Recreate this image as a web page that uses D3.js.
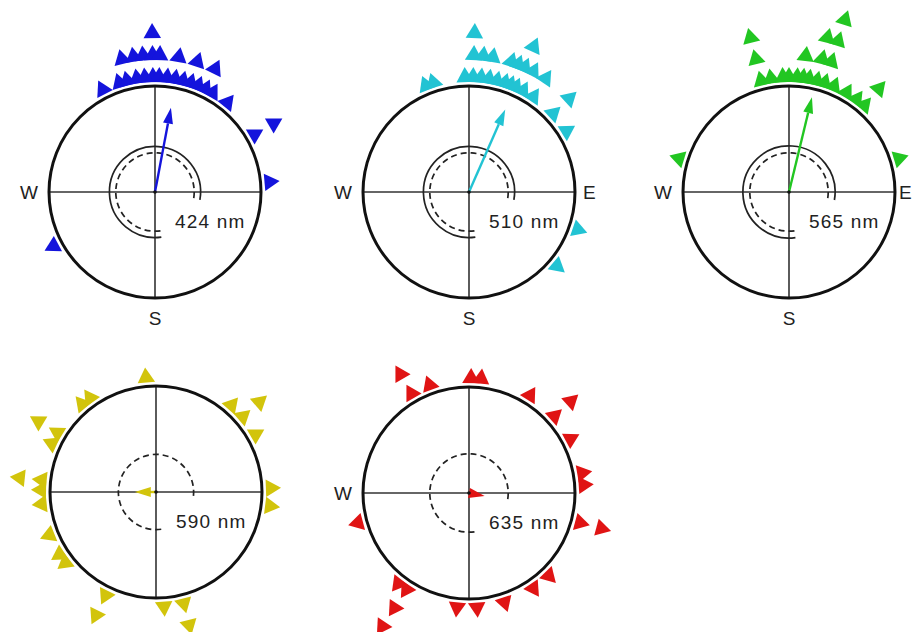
<!DOCTYPE html>
<html>
<head>
<meta charset="utf-8">
<script src="https://cdn.jsdelivr.net/npm/d3@7"></script>
<style>
body { margin: 0; background: #fff; }
svg { display: block; }
text { font-family: Arial, "Liberation Sans", sans-serif; fill: #222; }
</style>
</head>
<body>
<div id="chart"></div>
<script>

// headings (degrees, clockwise from north); repeated values stack outward
var wavelengths = ["424 nm", "510 nm", "565 nm", "590 nm", "635 nm"];
var headings424 = [242, 333, 342, 346, 346, 351, 351, 355, 355, 359, 359, 359, 2, 2, 6, 10, 10, 14, 18, 18, 22, 26, 26, 30, 39, 60, 60, 85];
var headings510 = [2, 2, 2, 6, 6, 10, 10, 14, 18, 18, 21, 21, 24, 24, 24, 28, 28, 34, 34, 47, 47, 58, 109, 130, 338, 342, 358];
var headings565 = [0, 4, 7, 7, 10, 14, 14, 14, 18, 18, 18, 18, 23, 30, 36, 41, 41, 73, 287, 346, 346, 346, 351, 357];
var headings590 = [41, 49, 49, 60, 88, 97, 166, 166, 176, 206, 206, 232, 237, 248, 264, 271, 276, 276, 295, 301, 301, 320, 325, 355];
var headings635 = [1, 6, 32, 48, 48, 62, 80, 86, 105, 105, 136, 146, 162, 176, 186, 213, 213, 213, 218, 255, 330, 330, 340];

// mean vector and Rayleigh circles (fraction of the outer radius)
var meanAngle = [10.7, 23.7, 13.6, 270, 101];
var meanLength = [0.81, 0.85, 0.92, 0.2, 0.15];
var criticalSolid = [0.43, 0.43, 0.435, null, null];
var criticalDashed = [0.37, 0.37, 0.37, 0.355, 0.37];
var compassLabels = [["W", "S"], ["W", "E", "S"], ["W", "E", "S"], [], ["W"]];

var colors = ["#1414dc", "#22c3d3", "#22c622", "#d2c40c", "#e01414"];
var allHeadings = [headings424, headings510, headings565, headings590, headings635];

var width = 913, height = 632;

var svg = d3.select("#chart")
    .append("svg")
    .attr("width", width)
    .attr("height", height);

var R = 106;
var centers = [[155, 192], [469, 192], [789, 192], [156, 492], [469, 493]];

var angle = d3.scaleLinear().domain([0, 360]).range([0, 2 * Math.PI]);
var radius = d3.scaleLinear().domain([0, 1]).range([0, R]);
var stackRadius = d3.scaleLinear().domain([0, 1]).range([R + 9, R + 31]);
var triangle = d3.symbol().type(d3.symbolTriangle).size(132);

function openArc(r) {
    // gap in the lower right quadrant, where the label sits
    var p = d3.path();
    p.arc(0, 0, r, angle(172 - 90), angle(460 - 90));
    return p.toString();
}

function stacked(list) {
    var seen = {};
    return list.map(function(h) {
        seen[h] = (seen[h] || 0);
        var d = {heading: h, level: seen[h]};
        seen[h] += 1;
        return d;
    });
}

wavelengths.forEach(function(wl, i) {

    var cx = centers[i][0], cy = centers[i][1];
    var g = svg.append("g")
        .attr("transform", "translate(" + cx + "," + cy + ")");

    var col = colors[i];

    // individual headings
    g.selectAll("path.pt")
        .data(stacked(allHeadings[i]))
        .enter().append("path")
            .attr("class", "pt")
            .attr("d", triangle)
            .attr("fill", col)
            .attr("transform", function(d) {
                var p = d3.pointRadial(angle(d.heading), stackRadius(d.level));
                return "translate(" + p[0] + "," + p[1] + ") rotate(" + d.heading + ")";
            });

    // cross hair
    g.append("line").attr("x1", -R).attr("x2", R).attr("y1", 0).attr("y2", 0)
        .attr("stroke", "#333").attr("stroke-width", 1.6);
    g.append("line").attr("y1", -R).attr("y2", R).attr("x1", 0).attr("x2", 0)
        .attr("stroke", "#333").attr("stroke-width", 1.6);

    g.append("circle")
        .attr("r", R)
        .attr("fill", "none")
        .attr("stroke", "#111")
        .attr("stroke-width", 3);

    if (criticalSolid[i] != null) {
        g.append("path")
            .attr("d", openArc(radius(criticalSolid[i])))
            .attr("fill", "none")
            .attr("stroke", "#222")
            .attr("stroke-width", 1.7);
    }
    g.append("path")
        .attr("d", openArc(radius(criticalDashed[i])))
        .attr("fill", "none")
        .attr("stroke", "#222")
        .attr("stroke-width", 1.7)
        .attr("stroke-dasharray", "6,4");

    // mean vector
    var a = angle(meanAngle[i]);
    var L = radius(meanLength[i]);
    var headLen = Math.min(16, L);
    var tip = d3.pointRadial(a, L);
    var base = d3.pointRadial(a, L - headLen);
    var px = Math.cos(a) * 5, py = Math.sin(a) * 5;

    if (L - headLen > 0) {
        g.append("line")
            .attr("x1", 0).attr("y1", 0)
            .attr("x2", base[0]).attr("y2", base[1])
            .attr("stroke", col)
            .attr("stroke-width", 2.4);
    }
    g.append("path")
        .attr("d", "M" + tip + "L" + [base[0] + px, base[1] + py] + "L" + [base[0] - px, base[1] - py] + "Z")
        .attr("fill", col);

    g.append("circle").attr("r", 1.8).attr("fill", "#111");

    g.append("text")
        .attr("x", 20)
        .attr("y", 36)
        .attr("font-size", "19px")
        .attr("letter-spacing", "1.2px")
        .text(wl);

    compassLabels[i].forEach(function(c) {
        var t = g.append("text").attr("font-size", "19px").text(c);
        if (c == "W") t.attr("x", -R - 11).attr("y", 7).attr("text-anchor", "end");
        if (c == "E") t.attr("x", Math.min(R + 8, width - cx - 14)).attr("y", 7).attr("text-anchor", "start");
        if (c == "S") t.attr("x", 0).attr("y", R + 27).attr("text-anchor", "middle");
    });
});

</script>
</body>
</html>
